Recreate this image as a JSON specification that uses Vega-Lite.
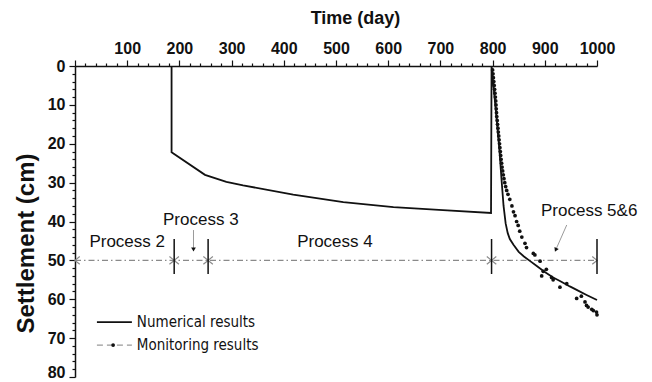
{
  "$schema": "https://vega.github.io/schema/vega-lite/v6.json",
  "autosize": {"type": "none"},
  "padding": {"left": 75, "top": 66, "right": 55, "bottom": 5},
  "width": 522,
  "height": 311,
  "background": "white",
  "config": {
    "view": {"stroke": null},
    "axis": {
      "grid": false,
      "domainColor": "#111",
      "domainWidth": 1.5,
      "tickColor": "#111",
      "tickWidth": 1.2,
      "labelColor": "#111",
      "labelFont": "Liberation Sans",
      "labelFontWeight": "bold",
      "labelFontSize": 16,
      "titleColor": "#111",
      "titleFont": "Liberation Sans"
    }
  },
  "datasets": {
    "numerical": [
      {"o": 1, "t": 185, "s": 0},
      {"o": 2, "t": 185, "s": 22.2},
      {"o": 3, "t": 249, "s": 28.0},
      {"o": 4, "t": 290, "s": 29.8},
      {"o": 5, "t": 322, "s": 30.7},
      {"o": 6, "t": 418, "s": 33.1},
      {"o": 7, "t": 514, "s": 35.0},
      {"o": 8, "t": 610, "s": 36.3},
      {"o": 9, "t": 705, "s": 37.1},
      {"o": 10, "t": 797, "s": 37.8},
      {"o": 11, "t": 798, "s": 0},
      {"o": 12, "t": 803, "s": 7},
      {"o": 13, "t": 808, "s": 14},
      {"o": 14, "t": 813, "s": 21.5},
      {"o": 15, "t": 817, "s": 29},
      {"o": 16, "t": 821, "s": 36},
      {"o": 17, "t": 825, "s": 40.5},
      {"o": 18, "t": 829, "s": 43},
      {"o": 19, "t": 833, "s": 44.5},
      {"o": 20, "t": 840, "s": 46},
      {"o": 21, "t": 850, "s": 47.8},
      {"o": 22, "t": 860, "s": 49},
      {"o": 23, "t": 872, "s": 50.2},
      {"o": 24, "t": 884, "s": 51.4},
      {"o": 25, "t": 900, "s": 53},
      {"o": 26, "t": 916, "s": 54.4},
      {"o": 27, "t": 929, "s": 55.3},
      {"o": 28, "t": 948, "s": 56.7},
      {"o": 29, "t": 961, "s": 57.6},
      {"o": 30, "t": 980, "s": 58.9},
      {"o": 31, "t": 1000, "s": 60.2}
    ],
    "monitoring": [
      {"t": 800, "s": 1}, {"t": 800.8, "s": 2}, {"t": 801.5, "s": 3}, {"t": 802.3, "s": 4},
      {"t": 803, "s": 5}, {"t": 803.8, "s": 6}, {"t": 804.5, "s": 7}, {"t": 805.3, "s": 8},
      {"t": 806, "s": 9}, {"t": 806.5, "s": 10}, {"t": 807, "s": 11}, {"t": 807.5, "s": 12},
      {"t": 808, "s": 13}, {"t": 808.8, "s": 14}, {"t": 809.5, "s": 15}, {"t": 810.3, "s": 16},
      {"t": 811, "s": 17}, {"t": 811.8, "s": 18}, {"t": 812.5, "s": 19}, {"t": 813.3, "s": 20},
      {"t": 814, "s": 21}, {"t": 814.8, "s": 22}, {"t": 815.5, "s": 23}, {"t": 816.3, "s": 24},
      {"t": 817.2, "s": 25}, {"t": 818.2, "s": 26}, {"t": 819.3, "s": 27}, {"t": 820.5, "s": 28},
      {"t": 821.8, "s": 29}, {"t": 823.3, "s": 30}, {"t": 825, "s": 31}, {"t": 827, "s": 32},
      {"t": 829.5, "s": 33}, {"t": 833, "s": 34.3}, {"t": 837, "s": 36}, {"t": 840, "s": 37.5},
      {"t": 843, "s": 38.5}, {"t": 846, "s": 40}, {"t": 849, "s": 41}, {"t": 852, "s": 42.5},
      {"t": 856, "s": 44}, {"t": 862, "s": 45.6}, {"t": 865, "s": 46.7}, {"t": 878, "s": 48.2},
      {"t": 881, "s": 48.6}, {"t": 891, "s": 50.2}, {"t": 894, "s": 54}, {"t": 897, "s": 52.8},
      {"t": 903, "s": 52.3}, {"t": 913, "s": 54.4}, {"t": 916, "s": 55}, {"t": 929, "s": 56.9},
      {"t": 942, "s": 56}, {"t": 961, "s": 59.8}, {"t": 970, "s": 59.2}, {"t": 977, "s": 60.7},
      {"t": 980, "s": 61.6}, {"t": 983, "s": 62}, {"t": 990, "s": 62.6}, {"t": 993, "s": 62.9},
      {"t": 999, "s": 63.3}, {"t": 1000, "s": 64}
    ],
    "span": [{"t": 0, "t2": 1000, "s": 50}],
    "bars": [
      {"t": 190, "s": 44.5, "s2": 53.5},
      {"t": 255, "s": 44.5, "s2": 53.5},
      {"t": 798, "s": 44.5, "s2": 53.5},
      {"t": 1000, "s": 44.5, "s2": 53.5}
    ],
    "arrowsRight": [{"t": 190, "s": 50}, {"t": 255, "s": 50}, {"t": 798, "s": 50}, {"t": 1000, "s": 50}],
    "arrowsLeft": [{"t": 0, "s": 50}, {"t": 190, "s": 50}, {"t": 255, "s": 50}, {"t": 798, "s": 50}],
    "pointers": [
      {"t": 227, "s": 42.2, "t2": 227, "s2": 47.2},
      {"t": 942, "s": 40.9, "t2": 921, "s2": 47.3}
    ],
    "head3": [{"t": 227, "s": 47.2}],
    "head56": [{"t": 921, "s": 47.3}],
    "labels": [
      {"t": 100, "s": 45.2, "label": "Process 2"},
      {"t": 241, "s": 39.7, "label": "Process 3"},
      {"t": 498, "s": 45.2, "label": "Process 4"},
      {"t": 985, "s": 37.3, "label": "Process 5&6"}
    ],
    "legNumLine": [{"t": 42, "t2": 109, "s": 65.9}],
    "legMonLine": [{"t": 42, "t2": 109, "s": 71.8}],
    "legMonDot": [{"t": 73, "s": 71.8}],
    "legText": [
      {"t": 118.5, "s": 65.9, "label": "Numerical results"},
      {"t": 118.5, "s": 71.8, "label": "Monitoring results"}
    ]
  },
  "encoding": {
    "x": {
      "field": "t",
      "type": "quantitative",
      "scale": {"domain": [0, 1000], "nice": false, "zero": false},
      "axis": {
        "orient": "top",
        "title": "Time (day)",
        "titleFontSize": 18,
        "titleFontWeight": "bold",
        "titleX": 280,
        "titleY": -48,
        "titleAlign": "center",
        "titleBaseline": "middle",
        "format": "d",
        "values": [0,20,40,60,80,100,120,140,160,180,200,220,240,260,280,300,320,340,360,380,400,420,440,460,480,500,520,540,560,580,600,620,640,660,680,700,720,740,760,780,800,820,840,860,880,900,920,940,960,980,1000],
        "labelExpr": "datum.value % 100 === 0 && datum.value > 0 ? datum.label : ''",
        "labelOverlap": false,
        "labelFlush": false,
        "labelPadding": 4,
        "tickSize": {"condition": {"test": "datum.value % 100 === 0", "value": 6}, "value": 3}
      }
    },
    "y": {
      "field": "s",
      "type": "quantitative",
      "scale": {"domain": [0, 80], "reverse": true, "nice": false},
      "axis": {
        "orient": "left",
        "title": "Settlement (cm)",
        "titleFontSize": 24,
        "titleFontWeight": "bold",
        "titleAngle": -90,
        "titleX": -49,
        "titleY": 177,
        "titleAlign": "center",
        "titleBaseline": "middle",
        "format": "d",
        "values": [0,2,4,6,8,10,12,14,16,18,20,22,24,26,28,30,32,34,36,38,40,42,44,46,48,50,52,54,56,58,60,62,64,66,68,70,72,74,76,78,80],
        "labelExpr": "datum.value % 10 === 0 ? datum.label : ''",
        "labelOverlap": false,
        "labelFlush": false,
        "labelPadding": 4,
        "labelBaseline": {"condition": {"test": "datum.value === 80", "value": "alphabetic"}, "value": "middle"},
        "tickSize": {"condition": {"test": "datum.value % 10 === 0", "value": 6}, "value": 3}
      }
    }
  },
  "layer": [
    {
      "data": {"name": "span"},
      "mark": {"type": "rule", "color": "#8a8a8a", "strokeWidth": 1.2, "strokeDash": [6, 3, 1.5, 3]},
      "encoding": {"x2": {"field": "t2"}}
    },
    {
      "data": {"name": "arrowsRight"},
      "mark": {"type": "point", "shape": "M-1,-0.8L0,0L-1,0.8", "size": 90, "filled": false, "stroke": "#8a8a8a", "strokeWidth": 1.2, "opacity": 1}
    },
    {
      "data": {"name": "arrowsLeft"},
      "mark": {"type": "point", "shape": "M1,-0.8L0,0L1,0.8", "size": 90, "filled": false, "stroke": "#8a8a8a", "strokeWidth": 1.2, "opacity": 1}
    },
    {
      "data": {"name": "bars"},
      "mark": {"type": "rule", "color": "#111", "strokeWidth": 1.5},
      "encoding": {"y2": {"field": "s2"}}
    },
    {
      "data": {"name": "pointers"},
      "mark": {"type": "rule", "color": "#9a9a9a", "strokeWidth": 1},
      "encoding": {"x2": {"field": "t2"}, "y2": {"field": "s2"}}
    },
    {
      "data": {"name": "head3"},
      "mark": {"type": "point", "shape": "triangle-down", "size": 22, "filled": true, "color": "#111", "opacity": 1}
    },
    {
      "data": {"name": "head56"},
      "mark": {"type": "point", "shape": "triangle-down", "size": 22, "filled": true, "color": "#111", "opacity": 1, "angle": 24}
    },
    {
      "data": {"name": "numerical"},
      "mark": {"type": "line", "color": "#111", "strokeWidth": 1.8},
      "encoding": {"order": {"field": "o", "type": "quantitative"}}
    },
    {
      "data": {"name": "monitoring"},
      "mark": {"type": "point", "shape": "circle", "size": 14, "filled": true, "color": "#111", "opacity": 1}
    },
    {
      "data": {"name": "labels"},
      "mark": {"type": "text", "font": "Liberation Sans", "fontSize": 17, "color": "#111", "align": "center", "baseline": "middle"},
      "encoding": {"text": {"field": "label"}}
    },
    {
      "data": {"name": "legNumLine"},
      "mark": {"type": "rule", "color": "#111", "strokeWidth": 1.8},
      "encoding": {"x2": {"field": "t2"}}
    },
    {
      "data": {"name": "legMonLine"},
      "mark": {"type": "rule", "color": "#999", "strokeWidth": 1.2, "strokeDash": [6, 4]},
      "encoding": {"x2": {"field": "t2"}}
    },
    {
      "data": {"name": "legMonDot"},
      "mark": {"type": "point", "shape": "circle", "size": 14, "filled": true, "color": "#111", "opacity": 1}
    },
    {
      "data": {"name": "legText"},
      "mark": {"type": "text", "font": "Liberation Sans Narrow, DejaVu Sans Condensed, Liberation Sans", "fontSize": 15, "color": "#111", "align": "left", "baseline": "middle"},
      "encoding": {"text": {"field": "label"}}
    }
  ]
}
